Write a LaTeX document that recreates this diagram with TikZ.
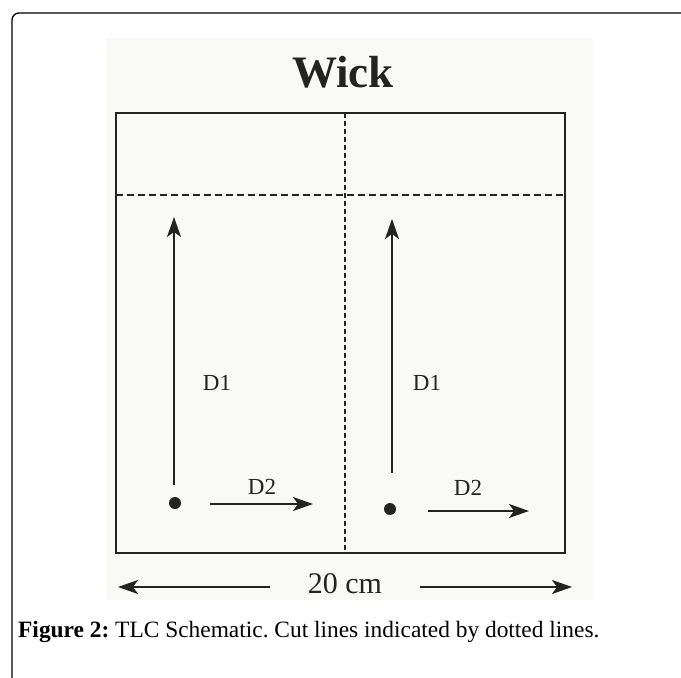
\documentclass[tikz,border=0pt]{standalone}
\usepackage{fontspec}
\setmainfont{Liberation Serif}
\usetikzlibrary{arrows.meta}
\definecolor{scan}{RGB}{249,249,247}
\definecolor{ink}{RGB}{35,35,35}
\frenchspacing
\tikzset{
  plate/.style={draw=ink, line width=2pt},
  hcut/.style={draw=ink, line width=2pt, dash pattern=on 7pt off 4pt},
  vcut/.style={draw=ink, line width=2pt, dash pattern=on 5pt off 3pt},
  runarrow/.style={draw=ink, line width=1.6pt, -{Stealth[length=20pt,width=14pt,inset=5pt]}},
  spot/.style={circle, fill=ink, inner sep=0pt, minimum size=12pt},
  lbl/.style={inner sep=0pt, text=ink, font=\fontsize{23}{27}\selectfont},
}
\begin{document}
\begin{tikzpicture}[x=1pt,y=-1pt]
\useasboundingbox (0,0) rectangle (681,678);
% outer frame (only top and left visible)
\draw[line width=1.3pt, rounded corners=7pt] (12,678) -- (12,13) -- (681,13);
% scanned figure background
\fill[scan] (106,38) rectangle (593,600);
% title
\node[inner sep=0pt, text=ink, font=\fontsize{45}{50}\selectfont\bfseries] (title) at (343,72) {Wick};
% plate
\coordinate (tl) at (116,113);
\coordinate (br) at (565,553);
\draw[plate] (tl) rectangle (br);
% cut lines
\coordinate (vtop) at (345,113);
\coordinate (vbot) at (345,553);
\coordinate (hl) at (116,195);
\coordinate (hr) at (565,195);
\draw[vcut] (vtop) -- (vbot);
\draw[hcut] (hl) -- (hr);
% left lane
\node[spot] (s1) at (175,503) {};
\coordinate (a1s) at (174,485);
\coordinate (a1e) at (174,217);
\draw[runarrow] (a1s) -- (a1e);
\node[lbl] (d1a) at (217,383) {D1};
\coordinate (b1s) at (210,504);
\coordinate (b1e) at (313,504);
\draw[runarrow] (b1s) -- (b1e);
\node[lbl] (d2a) at (262,487) {D2};
% right lane
\node[spot] (s2) at (390,509) {};
\coordinate (a2s) at (392,473);
\coordinate (a2e) at (392,219);
\draw[runarrow] (a2s) -- (a2e);
\node[lbl] (d1b) at (427,383) {D1};
\coordinate (b2s) at (428,511);
\coordinate (b2e) at (529,511);
\draw[runarrow] (b2s) -- (b2e);
\node[lbl] (d2b) at (468,488) {D2};
% 20 cm dimension
\node[inner sep=0pt, text=ink, font=\fontsize{30}{34}\selectfont] (dim) at (345,584) {20 cm};
\coordinate (dl) at (118,587);
\coordinate (dr) at (572,587);
\coordinate (dls) at (270,587);
\coordinate (drs) at (420,587);
\draw[runarrow] (dls) -- (dl);
\draw[runarrow] (drs) -- (dr);
% caption
\node[anchor=base west, inner sep=0pt, font=\fontsize{23.4}{28}\selectfont] (cap) at (18,637) {\textbf{Figure 2:} TLC Schematic. Cut lines indicated by dotted lines.};
\end{tikzpicture}
\end{document}
